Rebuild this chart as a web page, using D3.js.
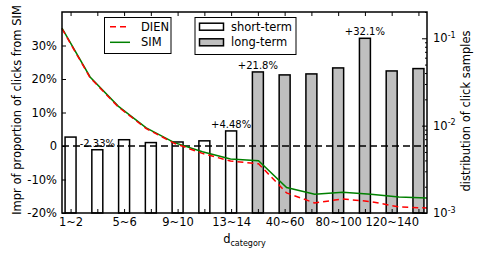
<!DOCTYPE html>
<html>
<head>
<meta charset="utf-8">
<script src="https://cdn.jsdelivr.net/npm/d3@7"></script>
<style>
  body { margin: 0; background: #fff; }
  text { font-family: "DejaVu Sans", sans-serif; fill: #000; }
</style>
</head>
<body>
<div id="chart"></div>
<script>
// tick labels under the bars (only every other one is labelled)
var tickLabels = ["1~2", "", "5~6", "", "9~10", "", "13~14", "", "40~60", "", "80~100", "", "120~140", ""];
// distribution of click samples (right, log axis)
var shortTerm = [0.0074, 0.0053, 0.0069, 0.0064, 0.0065, 0.0067, 0.0087];
var longTerm = [0.0412, 0.0381, 0.0391, 0.0458, 0.100, 0.0423, 0.0450];
// impr of proportion of clicks from SIM, in % (left axis)
var dienImpr = [35.0, 20.4, 11.7, 5.2, 0.8, -2.2, -4.5, -5.3, -14.0, -17.0, -15.8, -16.6, -18.2, -18.5];
var simImpr = [35.2, 20.6, 11.9, 5.4, 1.0, -1.7, -3.9, -4.4, -12.4, -14.4, -13.8, -14.4, -15.2, -15.5];
// text labels above some bars
var annoIndex = [1, 6, 7, 11];
var annoText = ["-2.33%", "+4.48%", "+21.8%", "+32.1%"];
var leftTicks = [-20, -10, 0, 10, 20, 30];

var width = 485, height = 263,
    plot = {left: 62, right: 427, top: 12, bottom: 213},
    fontSize = 11.5;

var svg = d3.select("#chart").append("svg")
    .attr("width", width)
    .attr("height", height);

var bars = shortTerm.map(v => ({v: v, type: "short"}))
    .concat(longTerm.map(v => ({v: v, type: "long"})));

var xBar = d3.scaleLinear().domain([-0.32, 13.32]).range([plot.left, plot.right]);
var xLine = d3.scaleLinear().domain([0, 13]).range([plot.left, plot.right]);
var yLeft = d3.scaleLinear().domain([-20, 40]).range([plot.bottom, plot.top]);
var yRight = d3.scaleLog().domain([1e-3, 0.2]).range([plot.bottom, plot.top]);

var barW = 0.41;

/* bars */
svg.append("g").selectAll("rect")
  .data(bars)
  .enter().append("rect")
  .attr("x", (d, i) => xBar(i - barW / 2))
  .attr("width", (d, i) => xBar(i + barW / 2) - xBar(i - barW / 2))
  .attr("y", d => yRight(d.v))
  .attr("height", d => plot.bottom - yRight(d.v))
  .style("fill", d => d.type == "short" ? "#ffffff" : "#bfbfbf")
  .style("stroke", "#000")
  .style("stroke-width", 1.5);

/* annotations */
svg.append("g").selectAll("text")
  .data(annoIndex)
  .enter().append("text")
  .attr("x", i => xBar(i))
  .attr("y", i => yRight(bars[i].v) - 3)
  .attr("text-anchor", "middle")
  .style("font-size", "10px")
  .text((i, k) => annoText[k]);

// zero line
svg.append("line")
  .attr("x1", plot.left).attr("x2", plot.right)
  .attr("y1", yLeft(0)).attr("y2", yLeft(0))
  .style("stroke", "#000")
  .style("stroke-width", 1.5)
  .style("stroke-dasharray", "7,4");

/* lines */
var line = d3.line().x((d, i) => xLine(i)).y(d => yLeft(d));

svg.append("path")
  .datum(simImpr)
  .attr("d", line)
  .style("fill", "none")
  .style("stroke", "#008000")
  .style("stroke-width", 1.5);

svg.append("path")
  .datum(dienImpr)
  .attr("d", line)
  .style("fill", "none")
  .style("stroke", "#ff0000")
  .style("stroke-width", 1.5)
  .style("stroke-dasharray", "6,4");

// Add the axes (ticks point inward)
var leftAxis = svg.append("g")
  .attr("transform", `translate(${plot.left},0)`)
  .call(d3.axisLeft(yLeft).tickValues(leftTicks)
    .tickFormat(d => d == 0 ? "0" : d + "%")
    .tickSizeInner(-4).tickSizeOuter(0).tickPadding(5));

var bottomAxis = svg.append("g")
  .attr("transform", `translate(0,${plot.bottom})`)
  .call(d3.axisBottom(xBar).tickValues(d3.range(14))
    .tickFormat(i => tickLabels[i])
    .tickSizeInner(-4).tickSizeOuter(0).tickPadding(5));

var topAxis = svg.append("g")
  .attr("transform", `translate(0,${plot.top})`)
  .call(d3.axisTop(xBar).tickValues(d3.range(14))
    .tickFormat("").tickSizeInner(-4).tickSizeOuter(0));

var minorTicks = [];
[1e-3, 1e-2, 1e-1].forEach(b => {
  for (var k = 2; k <= 9; k++) if (b * k <= 0.2) minorTicks.push(b * k);
});

var rightMinor = svg.append("g")
  .attr("transform", `translate(${plot.right},0)`)
  .call(d3.axisRight(yRight).tickValues(minorTicks)
    .tickFormat("").tickSizeInner(-2).tickSizeOuter(0));

var rightAxis = svg.append("g")
  .attr("transform", `translate(${plot.right},0)`)
  .call(d3.axisRight(yRight).tickValues([1e-3, 1e-2, 1e-1])
    .tickSizeInner(-5).tickSizeOuter(0).tickPadding(6));

rightAxis.selectAll(".tick text").each(function(d) {
  var t = d3.select(this).text(null);
  t.append("tspan").text("10");
  t.append("tspan").attr("dy", "-0.55em").style("font-size", "8px")
    .text("-" + Math.round(-Math.log10(d)));
});

[leftAxis, bottomAxis, topAxis, rightMinor, rightAxis].forEach(a => {
  a.select(".domain").remove();
  a.selectAll("text").style("font-size", fontSize + "px").style("font-family", "DejaVu Sans");
  a.selectAll(".tick line").style("stroke", "#000");
});

// frame
svg.append("rect")
  .attr("x", plot.left).attr("y", plot.top)
  .attr("width", plot.right - plot.left)
  .attr("height", plot.bottom - plot.top)
  .style("fill", "none")
  .style("stroke", "#000")
  .style("stroke-width", 1.5);

/* axis titles */
svg.append("text")
  .attr("transform", "translate(21,110) rotate(-90)")
  .attr("text-anchor", "middle")
  .style("font-size", fontSize + "px")
  .text("Impr of proportion of clicks from SIM");

svg.append("text")
  .attr("transform", "translate(470,111) rotate(-90)")
  .attr("text-anchor", "middle")
  .style("font-size", fontSize + "px")
  .text("distribution of click samples");

var xt = svg.append("text")
  .attr("x", (plot.left + plot.right) / 2)
  .attr("y", 243)
  .attr("text-anchor", "middle")
  .style("font-size", fontSize + "px");
xt.append("tspan").text("d");
xt.append("tspan").attr("dy", 3).style("font-size", "8px").text("category");

/* legends */
var leg1 = svg.append("g");
leg1.append("rect")
  .attr("x", 104.5).attr("y", 17.5).attr("width", 66.5).attr("height", 36)
  .style("fill", "#fff").style("stroke", "#000").style("stroke-width", 1);
var legLines = [{name: "DIEN", color: "#ff0000", dash: "6,4"}, {name: "SIM", color: "#008000", dash: null}];
legLines.forEach((d, k) => {
  var y = 26.7 + k * 15.6;
  leg1.append("line")
    .attr("x1", 110).attr("x2", 130).attr("y1", y).attr("y2", y)
    .style("stroke", d.color).style("stroke-width", 1.5)
    .style("stroke-dasharray", d.dash);
  leg1.append("text")
    .attr("x", 141).attr("y", y).attr("dy", "0.35em")
    .style("font-size", fontSize + "px")
    .text(d.name);
});

var leg2 = svg.append("g");
leg2.append("rect")
  .attr("x", 195).attr("y", 17.5).attr("width", 101).attr("height", 37)
  .style("fill", "#fff").style("stroke", "#000").style("stroke-width", 1);
var legBars = [{name: "short-term", fill: "#ffffff"}, {name: "long-term", fill: "#bfbfbf"}];
legBars.forEach((d, k) => {
  var y = 26.7 + k * 15.6;
  leg2.append("rect")
    .attr("x", 199.5).attr("y", y - 3.5).attr("width", 24).attr("height", 7)
    .style("fill", d.fill).style("stroke", "#000").style("stroke-width", 1.5);
  leg2.append("text")
    .attr("x", 231).attr("y", y).attr("dy", "0.35em")
    .style("font-size", fontSize + "px")
    .text(d.name);
});
</script>
</body>
</html>
